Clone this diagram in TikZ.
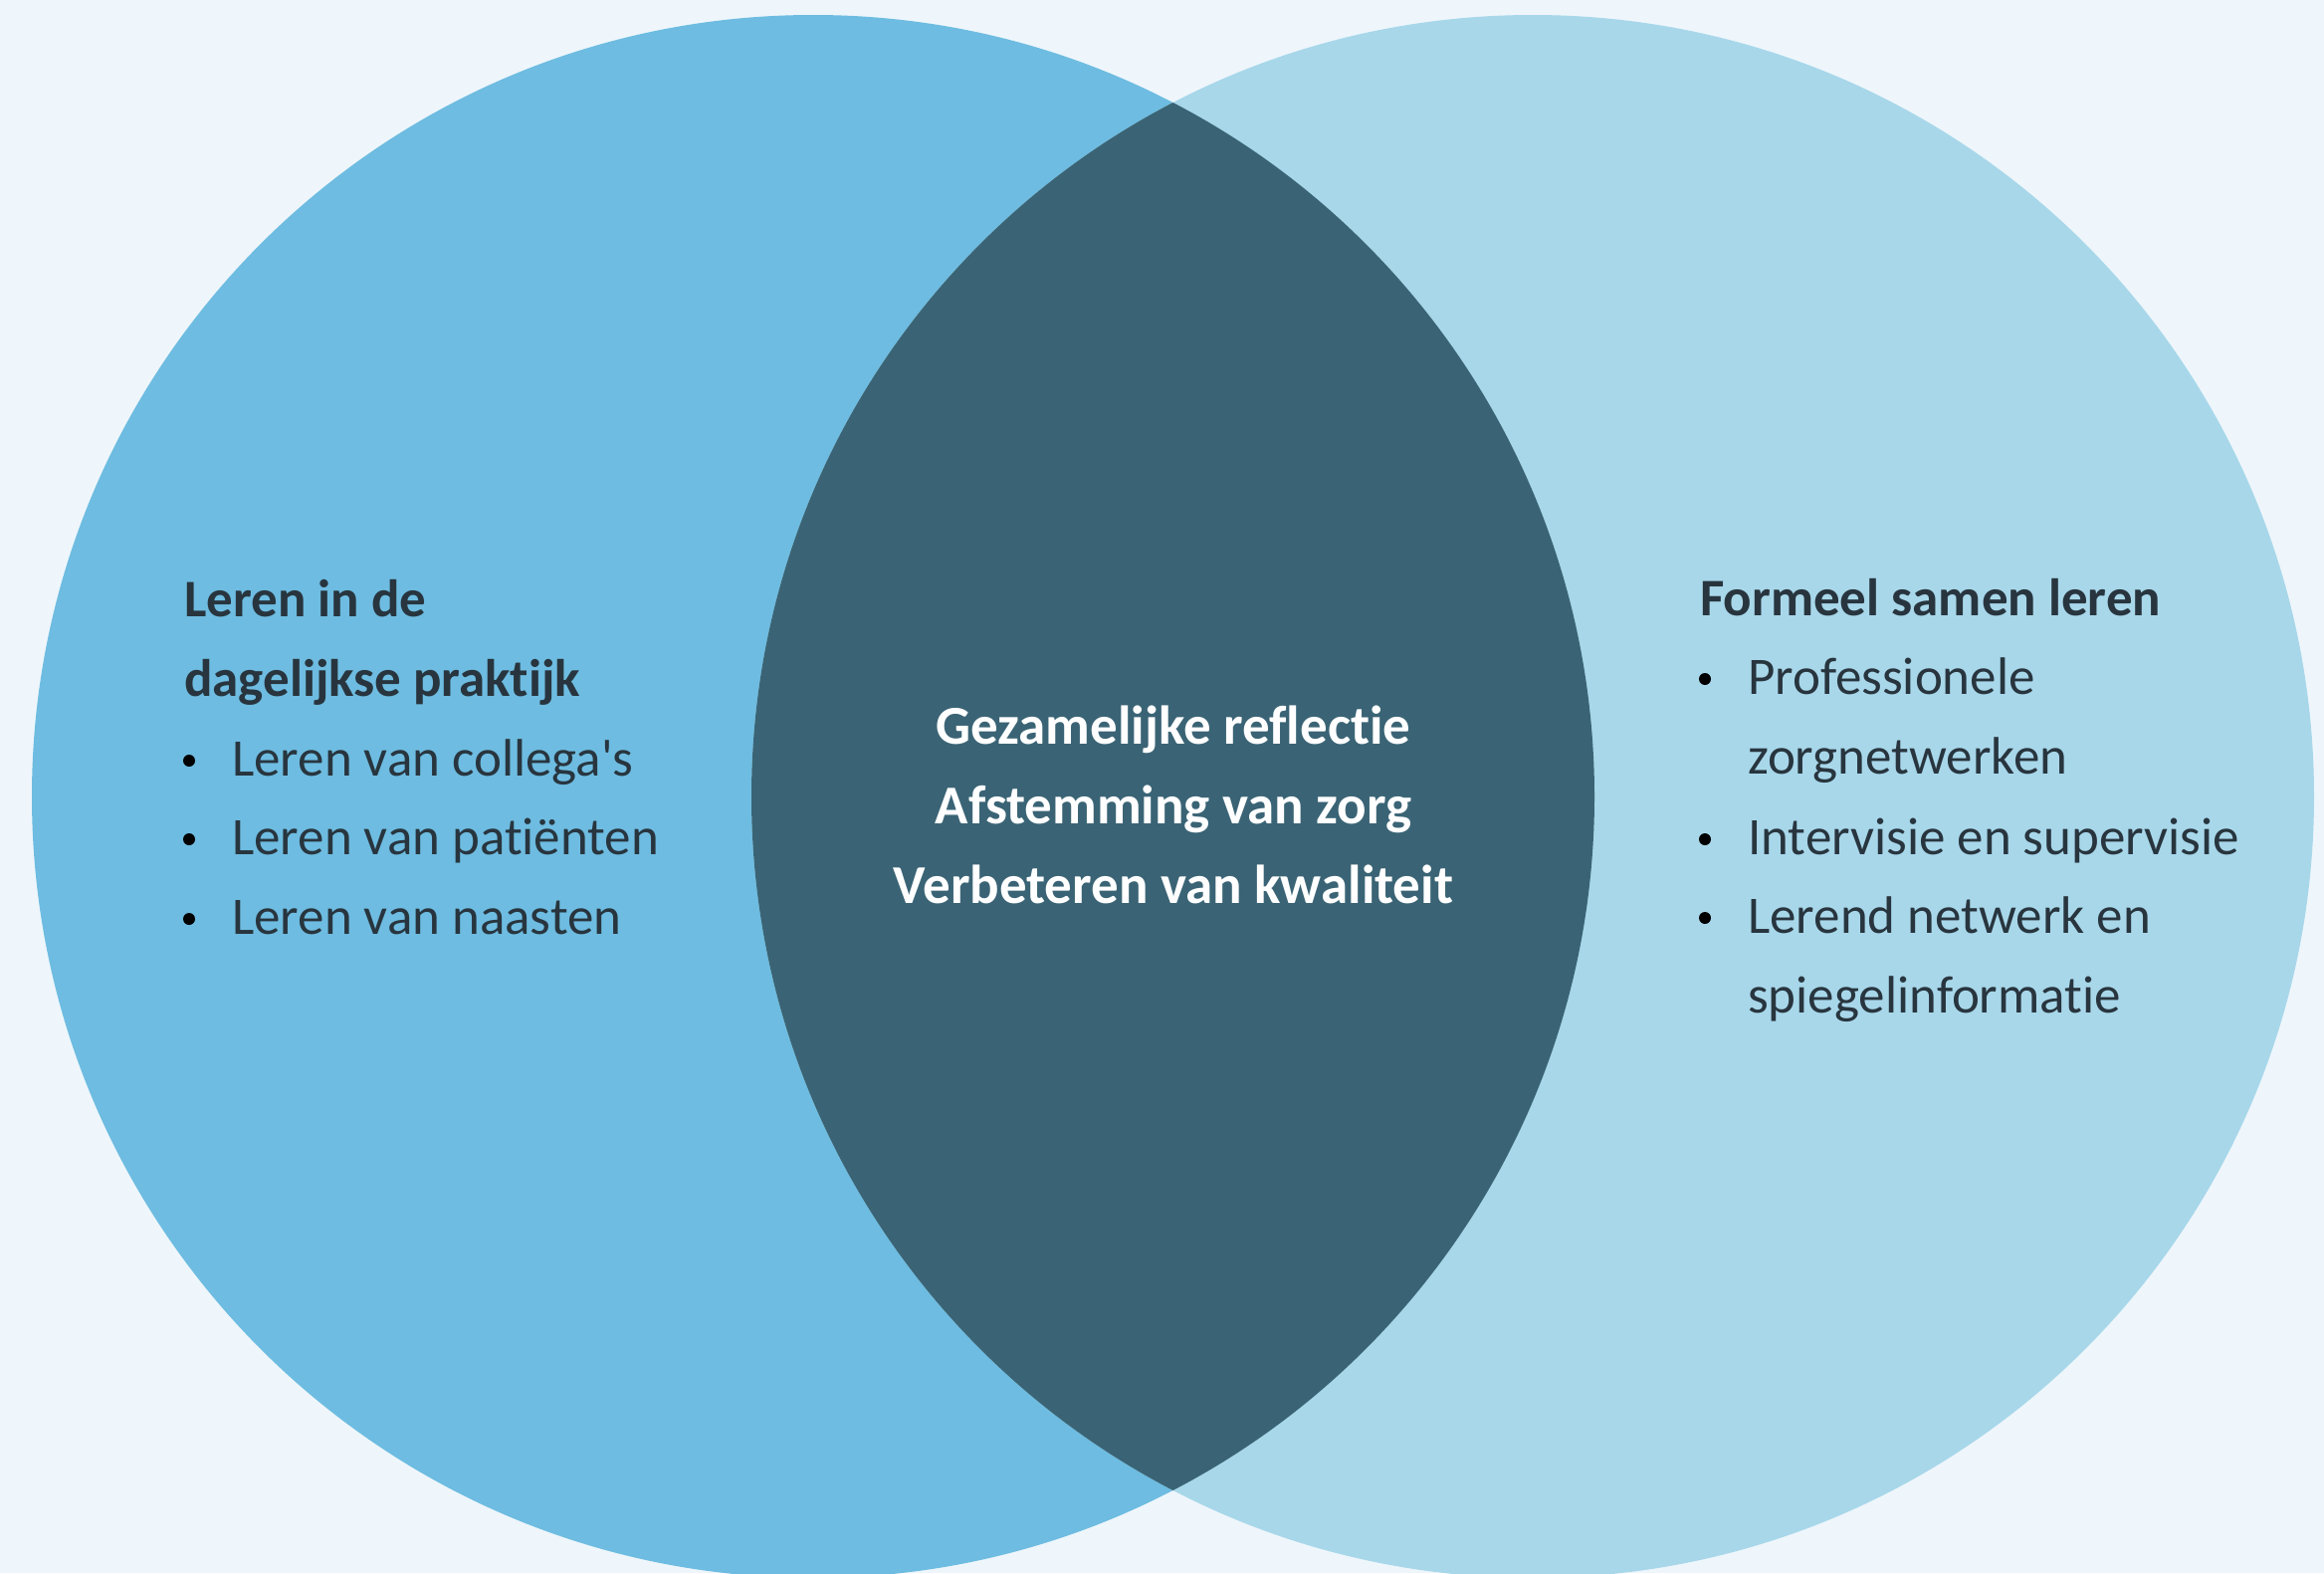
\documentclass[tikz,border=0pt]{standalone}
\usepackage{fontspec}
\setmainfont{Carlito}[Ligatures = {TeX, NoCommon}]
\definecolor{bgBlue}{HTML}{EEF6FB}
\definecolor{leftBlue}{HTML}{6EBCE1}
\definecolor{rightBlue}{HTML}{A8D7EA}
\definecolor{lensBlue}{HTML}{3A6475}
\definecolor{textDark}{HTML}{28353E}

\begin{document}
\begin{tikzpicture}[x = 1pt, y = -1pt, font = \fontsize{53}{80}\selectfont]
	\tikzstyle{itemStyle}=[anchor = base west, inner sep = 0pt, text = textDark]
	\tikzstyle{titleStyle}=[itemStyle, font = \fontsize{53}{80}\selectfont\bfseries]
	\tikzstyle{bulletStyle}=[shape = circle, minimum size = 12pt, inner sep = 0pt, fill = black]
	\tikzstyle{centreStyle}=[anchor = base, inner sep = 0pt, text = white, font = \fontsize{55}{80}\selectfont\bfseries]
	\useasboundingbox (0,0) rectangle (2335,1580);
	\clip (0,0) rectangle (2335,1580);
	\fill[bgBlue] (0,0) rectangle (2335,1580);
	% the two circles and their overlap
	\fill[leftBlue] (817,800) circle[radius = 785pt];
	\fill[rightBlue] (1540,800) circle[radius = 785pt];
	\begin{scope}
		\clip (817,800) circle[radius = 785pt];
		\fill[lensBlue] (1540,800) circle[radius = 785pt];
	\end{scope}
	% left
	\node[titleStyle] (l0) at (185,619) {Leren in de};
	\node[titleStyle] (l1) at (185,699) {dagelijkse praktijk};
	\node[bulletStyle] (b1) at (190,764) {};
	\node[bulletStyle] (b2) at (190,843) {};
	\node[bulletStyle] (b3) at (190,923) {};
	\node[itemStyle] (l2) at (233,779) {Leren van collega\textquotesingle s};
	\node[itemStyle] (l3) at (233,858) {Leren van patiënten};
	\node[itemStyle] (l4) at (233,938) {Leren van naasten};
	% centre
	\node[centreStyle] (c0) at (1179,747) {Gezamelijke reflectie};
	\node[centreStyle] (c1) at (1179,827) {Afstemming van zorg};
	\node[centreStyle] (c2) at (1179,907) {Verbeteren van kwaliteit};
	% right
	\node[titleStyle] (r0) at (1708,618) {Formeel samen leren};
	\node[bulletStyle] (b4) at (1713,682) {};
	\node[bulletStyle] (b5) at (1713,843) {};
	\node[bulletStyle] (b6) at (1713,922) {};
	\node[itemStyle] (r1) at (1756,697) {Professionele};
	\node[itemStyle] (r2) at (1756,777) {zorgnetwerken};
	\node[itemStyle] (r3) at (1756,858) {Intervisie en supervisie};
	\node[itemStyle] (r4) at (1756,937) {Lerend netwerk en};
	\node[itemStyle] (r5) at (1756,1017) {spiegelinformatie};
\end{tikzpicture}
\end{document}
